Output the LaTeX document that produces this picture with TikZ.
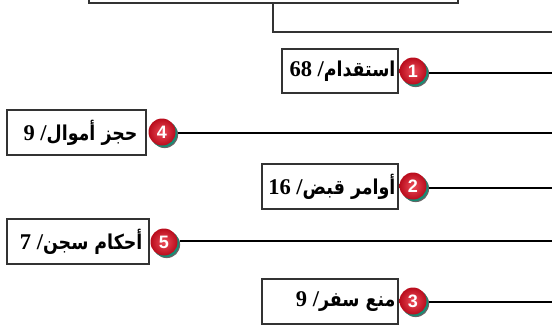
\documentclass[tikz,border=0pt]{standalone}
\usepackage{fontspec}
\setmainfont{Liberation Serif}
\newfontfamily\arabicfont[Script=Arabic,FakeStretch=0.85]{DejaVu Sans}
\newfontfamily\digitfont{Liberation Sans}
\TeXXeTstate=1
\usetikzlibrary{calc,shadows}
\definecolor{ballred}{RGB}{232,32,48}
\definecolor{balldark}{RGB}{185,12,28}
\definecolor{tealc}{RGB}{20,140,115}
\newcommand\arlab[2]{\beginR{\arabicfont\bfseries\fontsize{20.5}{24}\selectfont #1}{\fontsize{22.5}{24}\selectfont\bfseries/ \beginL #2\endL}\endR}
\begin{document}
\begin{tikzpicture}[x=1pt,y=-1pt,
  frame/.style={draw=black!80, line width=1.3pt, rectangle, inner sep=0pt},
  lab/.style={anchor=east, inner sep=0pt},
  ball/.style={circle, minimum size=27pt, inner sep=0pt, text=white,
    font=\digitfont\bfseries\fontsize{18}{18}\selectfont,
    general shadow={fill=black!60, shadow xshift=2.6pt, shadow yshift=-2.6pt},
    general shadow={fill=tealc, shadow xshift=1.6pt, shadow yshift=-1.6pt},
    inner color=ballred!80!white, outer color=balldark, shading=radial},
  conn/.style={draw=black, line width=2pt},
  thin/.style={draw=black!80, line width=1.3pt}]
\useasboundingbox (0,0) rectangle (552,325);
\clip (0,0) rectangle (552,325);

% top box
\node[frame, minimum width=369pt, minimum height=40pt] (top) at (273.5,-17) {};
\coordinate (j) at (273,32);
\coordinate (jend) at (553,32);
\draw[thin] (top.south -| j) -- (j) -- (jend);

% boxes
\node[frame, minimum width=116pt, minimum height=44pt] (b1) at (340,71) {};
\node[frame, minimum width=139pt, minimum height=45pt] (b4) at (76.5,132.5) {};
\node[frame, minimum width=136pt, minimum height=45pt] (b2) at (330,186.5) {};
\node[frame, minimum width=142pt, minimum height=45pt] (b5) at (78,241.5) {};
\node[frame, minimum width=136pt, minimum height=45pt] (b3) at (330,301.5) {};

\node[lab] (t1) at ($(b1.east)+(-3,0)$) {\arlab{استقدام}{68}};
\node[lab] (t4) at ($(b4.east)+(-9,0)$) {\arlab{حجز أموال}{9}};
\node[lab] (t2) at ($(b2.east)+(-3,0)$) {\arlab{أوامر قبض}{16}};
\node[lab] (t5) at ($(b5.east)+(-7,0)$) {\arlab{أحكام سجن}{7}};
\node[lab] (t3) at ($(b3.east)+(-3,0)$) {\arlab{منع سفر}{9}};

% balls
\node[ball] (c1) at (413,71) {1};
\node[ball] (c4) at (162,132) {4};
\node[ball] (c2) at (413,186) {2};
\node[ball] (c5) at (164,242) {5};
\node[ball] (c3) at (413,301) {3};

\coordinate (e1) at (553,73);
\coordinate (e4) at (553,133);
\coordinate (e2) at (553,188);
\coordinate (e5) at (553,241);
\coordinate (e3) at (553,302);
\draw[conn] (c1.east |- e1) ++(2,0) -- (e1);
\draw[conn] (c4.east |- e4) ++(2,0) -- (e4);
\draw[conn] (c2.east |- e2) ++(2,0) -- (e2);
\draw[conn] (c5.east |- e5) ++(2,0) -- (e5);
\draw[conn] (c3.east |- e3) ++(2,0) -- (e3);
\end{tikzpicture}
\end{document}
